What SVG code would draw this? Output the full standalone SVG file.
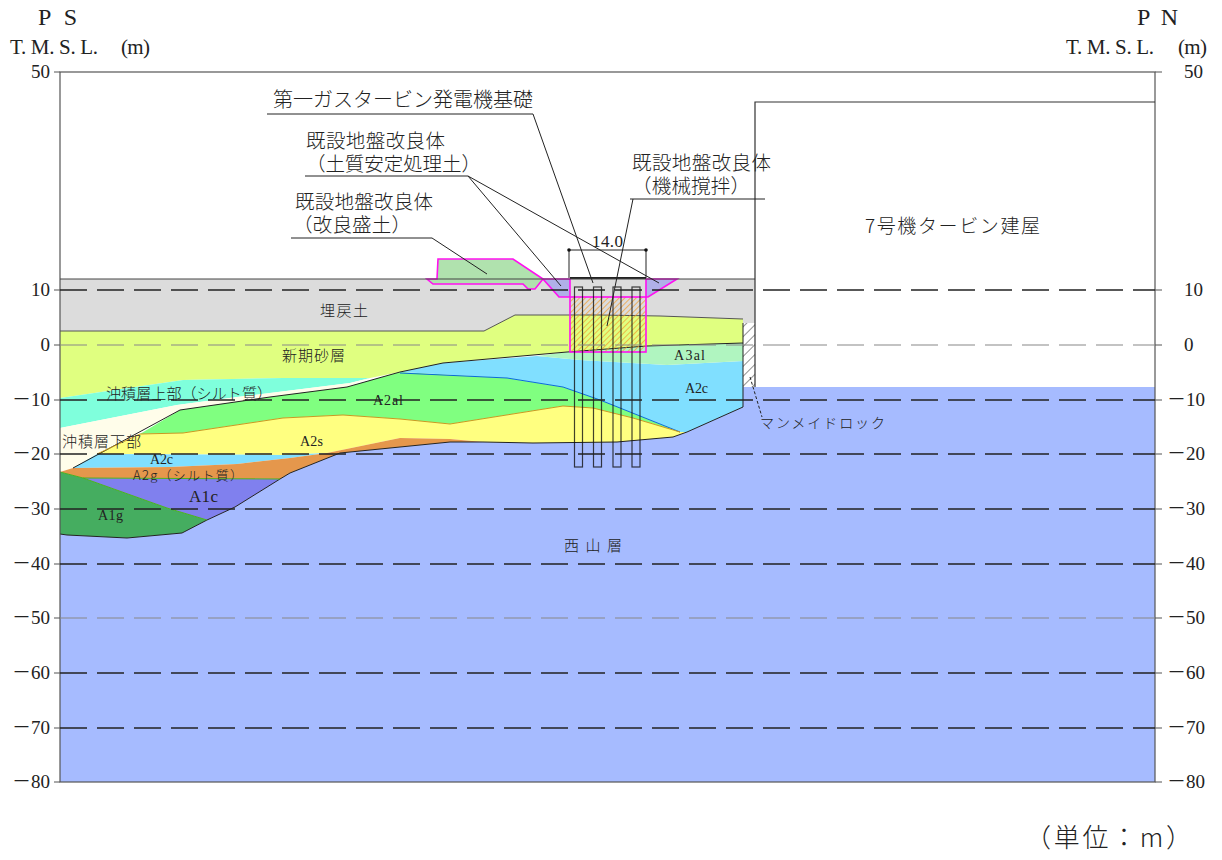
<svg xmlns="http://www.w3.org/2000/svg" width="1222" height="860" viewBox="0 0 1222 860">
<style>
text{font-family:"Liberation Serif","Noto Sans CJK JP",serif;fill:#222}
.j{font-family:"Noto Sans CJK JP","Liberation Serif",sans-serif;font-weight:300}
.ax{font-size:19px;fill:#333}
.d{fill:none;stroke:#222;stroke-width:1.4;stroke-dasharray:27 10}
.dg{fill:none;stroke:#888;stroke-width:1.2;stroke-dasharray:27 10}
.t{stroke:#555;stroke-width:1.2}
.ld{fill:none;stroke:#222;stroke-width:1}
.p{fill:none;stroke:#111;stroke-width:1.2;opacity:.8}
.mg{stroke:#ff10f0;stroke-width:1.6}
</style>
<defs>
<pattern id="ho" width="4" height="4" patternUnits="userSpaceOnUse" patternTransform="rotate(45)"><line x1="0" y1="0" x2="0" y2="4" stroke="#f29a2a" stroke-width="1.4"/></pattern>
<pattern id="hg" width="7" height="7" patternUnits="userSpaceOnUse" patternTransform="rotate(45)"><line x1="0" y1="0" x2="0" y2="7" stroke="#555" stroke-width="1.3"/></pattern>
</defs>
<rect width="1222" height="860" fill="#fff"/>
<g id="strata">
<polygon id="bedrock" fill="#a6bbff" points="60,534 67,535 127,538 182,533 207,520 235,507 280,479 290,473 340,453 400,447 450,442 483,442 533,443 617,442 673,437 687,432 743,407 743,387 1155,387 1155,782 60,782"/>
<polygon id="fill-soil" fill="#dcdcdc" points="60,279 755,279 755,323 743,323 743,319 660,316 600,315 515,315 484,331 60,331"/>
<polygon id="shinki" fill="#e0ff80" points="60,331 484,331 515,315 600,315 660,316 743,319 743,343 647,346 567,352 443,363 400,372 370,378 283,378 183,380 60,398"/>
<polygon id="chuseki-upper" fill="#7fffdc" points="60,398 183,380 283,378 370,378 350,383 237,397 177,405 60,428"/>
<polygon id="chuseki-lower" fill="#fffdea" points="60,428 177,405 237,397 350,383 370,378 347,387 270,397 180,410 73,468 60,472"/>
<polygon id="a2al" fill="#80ff80" points="140,434 180,410 270,397 347,387 400,372 507,378 563,387 600,400 680,432 633,418 593,408 563,406 450,424 400,419 343,415 283,418 183,433"/>
<polygon id="a2s" fill="#ffff80" points="97,454 140,434 183,433 283,418 343,415 400,419 450,424 563,406 593,408 633,418 680,432 687,432 673,437 617,442 533,443 483,442 450,439 400,438 327,453 283,455"/>
<polygon id="a2c-left" fill="#80dfff" points="73,468 97,454 283,455 327,453 290,458 237,464 170,467"/>
<polygon id="a2g" fill="#e5974c" points="60,472 73,468 170,467 237,464 290,458 327,453 400,438 450,439 483,442 450,442 400,447 340,453 290,473 280,479 83,478"/>
<polygon id="a1c" fill="#8080ee" points="83,478 280,479 235,507 207,520 167,508"/>
<polygon id="a1g" fill="#45ad60" points="60,472 83,478 167,508 207,520 182,533 127,538 67,535 60,534"/>
<polygon id="a2c-right" fill="#80dfff" points="400,372 443,363 537,356 580,360 667,365 743,361 743,407 687,432 680,432 600,400 563,387 507,378"/>
<polygon id="a3al" fill="#b0f5c0" points="537,356 567,352 647,346 743,343 743,361 667,365 580,360"/>
<rect id="manmade" x="743" y="323" width="12" height="64" fill="#fff"/>
<rect x="743" y="323" width="12" height="64" fill="url(#hg)"/>
<polyline fill="none" stroke="#222" points="60,534 67,535 127,538 182,533 207,520 235,507 280,479 290,473 340,453 400,447 450,442 483,442 533,443 617,442 673,437 687,432 743,407 743,323"/>
<polyline fill="none" stroke="#222" points="73,468 180,410 270,397 347,387 400,372 443,363 567,352 647,346 743,343"/>
<polyline fill="none" stroke="#0a6ad8" points="400,373 507,378 563,387 600,400 680,432"/>
<polyline fill="none" stroke="#555" points="60,331 484,331 515,315 600,315 660,316 743,319"/>
<polyline fill="none" stroke="#c89a20" points="97,454 140,434 183,433 283,418 343,415 400,419 450,424 563,406 593,408 633,418 680,432"/>
<polyline fill="none" stroke="#4ab020" points="60,472 83,478 167,508 207,520"/>
<line x1="83" y1="478" x2="280" y2="479" stroke="#4ab020"/>
</g>
<g id="improved-ground">
<polygon id="embankment" class="mg" fill="#b0e2ae" points="438,259 513,259 543,279 535,289 528,289 523,284 433,284 427,279 437,279"/>
<polygon id="soil-left" class="mg" fill="#b0b0e8" points="543,279 570,279 570,297 559,297"/>
<polygon id="soil-right" class="mg" fill="#b0b0e8" points="646,279 677,279 648,297 646,297"/>
<rect id="mixing" x="570" y="297" width="76" height="55" class="mg" fill="url(#ho)"/>
<line id="foundation" x1="570" y1="278" x2="646" y2="278" stroke="#222" stroke-width="2"/>
</g>
<g id="piles">
<rect class="p" x="574.5" y="287" width="8" height="180"/>
<rect class="p" x="593.5" y="287" width="8" height="180"/>
<rect class="p" x="613" y="287" width="8" height="180"/>
<rect class="p" x="632" y="287" width="8" height="180"/>
</g>
<g id="frame" fill="none">
<rect x="60" y="72" width="1095" height="710" stroke="#555" stroke-width="1.2"/>
<line x1="60" y1="279" x2="755" y2="279" stroke="#444"/>
<path d="M755,387V102H1155" stroke="#333" stroke-width="1.2"/>
<path class="t" d="M54,72H60M54,290H60M54,345H60M54,400H60M54,454H60M54,509H60M54,564H60M54,618H60M54,673H60M54,728H60M54,782H60M1155,72H1162M1155,290H1162M1155,345H1162M1155,400H1162M1155,454H1162M1155,509H1162M1155,564H1162M1155,618H1162M1155,673H1162M1155,728H1162M1155,782H1162"/>
</g>
<g id="gridlines">
<line class="d" x1="60" y1="290" x2="1155" y2="290"/>
<line class="dg" x1="60" y1="345" x2="1155" y2="345"/>
<line class="d" x1="60" y1="400" x2="1155" y2="400"/>
<line class="d" x1="60" y1="454" x2="1155" y2="454"/>
<line class="d" x1="60" y1="509" x2="1155" y2="509"/>
<line class="d" x1="60" y1="564" x2="1155" y2="564"/>
<line class="dg" x1="60" y1="618" x2="1155" y2="618"/>
<line class="d" x1="60" y1="673" x2="1155" y2="673"/>
<line class="d" x1="60" y1="728" x2="1155" y2="728"/>
</g>
<g id="connectors">
<path class="ld" d="M267,114H533L593,283"/>
<path class="ld" d="M305,176H468L561,286M468,176L659,283"/>
<path class="ld" d="M630,199H765M633,199L607,326"/>
<path class="ld" d="M291,238H432L487,274"/>
<path class="ld" d="M750,377L762,417" stroke-dasharray="3 2"/>
<path class="ld" d="M569,250H646M569,250V278M646,250V278" stroke="#444"/>
<circle cx="569" cy="250" r="1.8" fill="#111"/>
<circle cx="646" cy="250" r="1.8" fill="#111"/>
</g>
<g id="labels">
<text x="38" y="25" font-size="24" textLength="39">P S</text>
<text x="1137" y="25" font-size="24" textLength="41">P N</text>
<text x="10" y="54" font-size="21" textLength="88">T. M. S. L.</text>
<text x="121" y="54" font-size="21" textLength="29">(m)</text>
<text x="1066" y="54" font-size="21" textLength="88">T. M. S. L.</text>
<text x="1178" y="54" font-size="21" textLength="29">(m)</text>
<g class="ax" text-anchor="end">
<text x="50" y="78">50</text><text x="50" y="296">10</text><text x="50" y="351">0</text><text x="50" y="406">－10</text><text x="50" y="460">－20</text><text x="50" y="515">－30</text><text x="50" y="570">－40</text><text x="50" y="624">－50</text><text x="50" y="679">－60</text><text x="50" y="734">－70</text><text x="50" y="788">－80</text>
</g>
<g class="ax">
<text x="1184" y="78">50</text><text x="1184" y="296">10</text><text x="1184" y="351">0</text><text x="1167" y="406">－10</text><text x="1167" y="460">－20</text><text x="1167" y="515">－30</text><text x="1167" y="570">－40</text><text x="1167" y="624">－50</text><text x="1167" y="679">－60</text><text x="1167" y="734">－70</text><text x="1167" y="788">－80</text>
</g>
<text class="j" x="273" y="107" font-size="20" textLength="260">第一ガスタービン発電機基礎</text>
<text class="j" x="306" y="148" font-size="19.5" textLength="139">既設地盤改良体</text>
<text class="j" x="306" y="171" font-size="19.5" textLength="175">（土質安定処理土）</text>
<text class="j" x="632" y="170" font-size="19.5" textLength="139">既設地盤改良体</text>
<text class="j" x="632" y="193" font-size="19.5" textLength="118">（機械撹拌）</text>
<text class="j" x="295" y="209" font-size="19.5" textLength="138">既設地盤改良体</text>
<text class="j" x="293" y="232" font-size="19.5" textLength="118">（改良盛土）</text>
<text x="592" y="247" font-size="17" textLength="31">14.0</text>
<text class="j" x="865" y="233" font-size="19" textLength="175">7号機タービン建屋</text>
<text class="j" x="760" y="428" font-size="14" textLength="125">マンメイドロック</text>
<text class="j" x="1025" y="847" font-size="26" textLength="167">（単位：m）</text>
<text class="j" x="320" y="316" font-size="15" textLength="48">埋戻土</text>
<text class="j" x="282" y="361" font-size="15" textLength="63">新期砂層</text>
<text class="j" x="106" y="399" font-size="15" textLength="166">沖積層上部（シルト質）</text>
<text class="j" x="62" y="447" font-size="15" textLength="79">沖積層下部</text>
<text x="373" y="405" font-size="14" textLength="30">A2al</text>
<text x="300" y="446" font-size="14" textLength="23">A2s</text>
<text x="150" y="464" font-size="14" textLength="23">A2c</text>
<text class="j" x="133" y="480" font-size="13" textLength="110">A2g（シルト質）</text>
<text x="189" y="502" font-size="17" textLength="29">A1c</text>
<text x="98" y="520" font-size="14" textLength="25">A1g</text>
<text class="j" x="564" y="551" font-size="15" textLength="58">西山層</text>
<text x="674" y="360" font-size="14" textLength="31">A3al</text>
<text x="685" y="393" font-size="14" textLength="23">A2c</text>
</g>
</svg>
